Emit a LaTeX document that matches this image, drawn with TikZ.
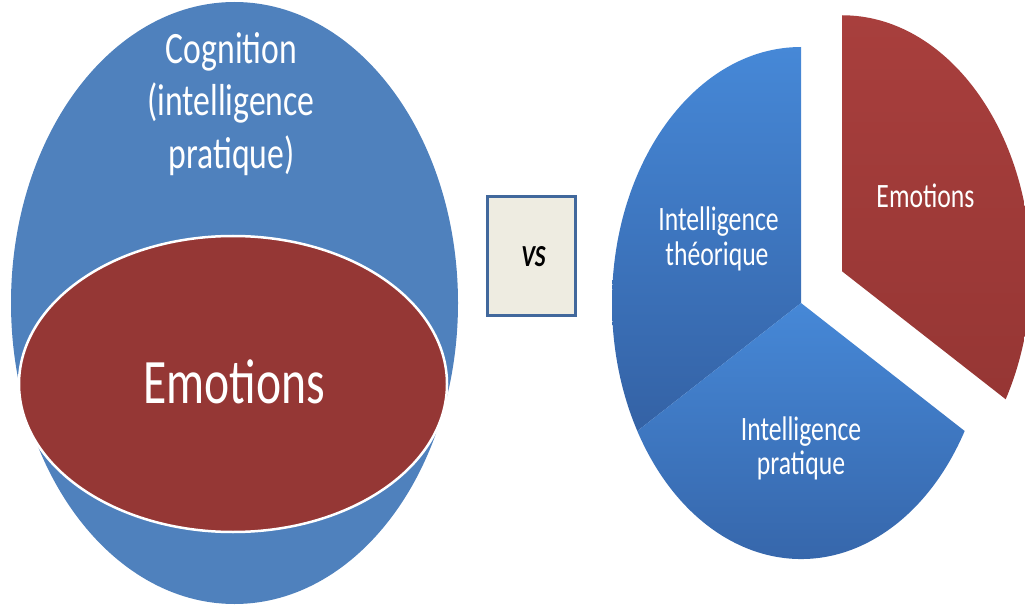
\documentclass[tikz,border=0pt]{standalone}
\usepackage{fontspec}
\setmainfont{Carlito}
\definecolor{ovalblue}{HTML}{4F81BD}
\definecolor{ovalred}{HTML}{953735}
\definecolor{pietop}{RGB}{70,136,215}
\definecolor{piebot}{RGB}{52,98,165}
\definecolor{redtop}{RGB}{168,63,61}
\definecolor{redbot}{RGB}{150,54,52}
\definecolor{vsfill}{HTML}{EEECE1}
\definecolor{vsline}{HTML}{41689C}
\begin{document}
\begin{tikzpicture}[x=1pt,y=1pt,
  wtext/.style={text=white, inner sep=0pt, anchor=base, yscale=1.33},
  bigtxt/.style={wtext, font=\fontsize{33.7}{39}\selectfont},
  hugetxt/.style={wtext, font=\fontsize{47.6}{55}\selectfont},
  pietxt/.style={wtext, font=\fontsize{25.7}{30}\selectfont},
  blueslice/.style={top color=pietop, bottom color=piebot, draw=none},
  redslice/.style={top color=redtop, bottom color=redbot, draw=none}]
\useasboundingbox (0,0) rectangle (1025,606);
\begin{scope}
\clip (0,0) rectangle (1025,606);
% left ovals
\fill[ovalblue] (234.5,303) ellipse [x radius=223.5, y radius=301];
\filldraw[fill=ovalred, draw=white, line width=2.5pt] (233,222) ellipse [x radius=214, y radius=148];
% VS box
\node[draw=vsline, fill=vsfill, line width=3pt, minimum width=88pt, minimum height=119pt, inner sep=0pt] (vsbox) at (531.5,350) {};
% pie
\coordinate (pc) at (801,303);
\coordinate (rc) at (842,334.75);
\path[blueslice] (pc) -- ++(0,256) arc[start angle=90, end angle=210, x radius=189, y radius=256] -- cycle;
\path[blueslice] (pc) -- ++(-163.7,-128) arc[start angle=210, end angle=330, x radius=189, y radius=256] -- cycle;
\path[redslice] (rc) -- ++(0,256) arc[start angle=90, end angle=-30, x radius=189, y radius=256] -- cycle;
\end{scope}
% texts
\node[bigtxt] (cog1) at (231.5,542) {Cognition};
\node[bigtxt] (cog2) at (231,490) {(intelligence};
\node[bigtxt] (cog3) at (231.5,437) {pratique)};
\node[hugetxt] (emo) at (234,203) {Emotions};
\node[inner sep=0pt, anchor=base, yscale=1.33, font=\fontsize{23}{27}\selectfont\bfseries\itshape] (vs) at (533.5,339) {VS};
\node[pietxt] (th1) at (718.5,375) {Intelligence};
\node[pietxt] (th2) at (717,340) {théorique};
\node[pietxt] (pr1) at (801,166) {Intelligence};
\node[pietxt] (pr2) at (801,132) {pratique};
\node[pietxt] (pemo) at (925.5,398) {Emotions};
\end{tikzpicture}
\end{document}
